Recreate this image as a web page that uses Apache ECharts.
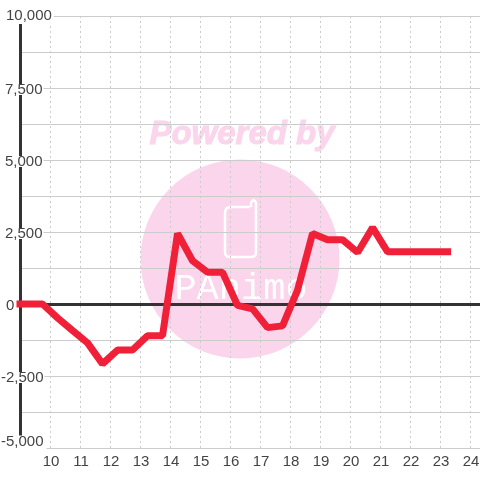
<!DOCTYPE html>
<html><head><meta charset="utf-8">
<style>html,body{margin:0;padding:0;background:#fff}#c{width:480px;height:480px}</style>
<script src="https://cdn.jsdelivr.net/npm/echarts@6/dist/echarts.min.js"></script>
</head><body><div id="c"></div>
<script>
var hours = [9,9.75,10.25,10.75,11.25,11.75,12.25,12.75,13.25,13.75,14.25,14.75,15.25,15.75,16.25,16.75,17.25,17.75,18.25,18.75,19.25,19.75,20.25,20.75,21.25,21.75,22.25,22.75,23.25];
var values = [0,0,-480,-920,-1350,-2080,-1600,-1600,-1100,-1100,2450,1500,1100,1100,-50,-170,-820,-760,480,2450,2230,2230,1790,2650,1810,1810,1810,1810,1810];
var watermarkTop = 'Powered by';
var watermarkLogo = 'PAnimo';
var font = '"Liberation Sans", Arial, sans-serif';
var chart = echarts.init(document.getElementById('c'), null, {renderer:'canvas'});
function yLabel(v){
  var s = echarts.format.addCommas(v);
  if (v===10000) return '{t|'+s+'}';
  if (v===-5000) return '{m|'+s+'}';
  var k = v===0 ? 'z' : v<0 ? 'n' : 'p';
  return '{s| }\n{'+k+'|'+s+'}';
}
function st(extra){return Object.assign({color:'#444',fontSize:15,fontFamily:font,backgroundColor:'#fff',height:11,lineHeight:11},extra);}
chart.setOption({
  animation:false,
  grid:{left:20,right:0,top:16,bottom:32,outerBoundsMode:'none'},
  graphic:[
    {type:'circle',z:-10,silent:true,shape:{cx:240,cy:259,r:99.5},style:{fill:'#fbd5ec'}},
    {type:'text',z:-10,silent:true,x:242,y:135,style:{text:watermarkTop,fill:'#fbd5ec',stroke:'#fbd5ec',lineWidth:1,font:'italic bold 33px '+font,align:'center',verticalAlign:'middle'}},
    {type:'polyline',z:-10,silent:true,shape:{points:[[250,207],[230,207],[227,208],[225.5,210],[225,213],[225,252],[225.5,255],[227,256.5],[230,257],[251,257],[254,256.5],[255.5,255],[256,252],[256,203],[255,201],[253.5,200],[252,201],[251,203],[251,207]]},style:{fill:'none',stroke:'#fff',lineWidth:2.5}},
    {type:'text',z:-10,silent:true,x:241,y:289,style:{text:watermarkLogo,fill:'#fff',font:'37px "Liberation Mono"',align:'center',verticalAlign:'middle'}}
  ],
  xAxis:{type:'value',min:9,max:24.33,interval:1,
    axisLine:{show:false},axisTick:{show:false},
    axisLabel:{color:'#444',fontSize:15,fontFamily:font,margin:6,padding:[0,0,0,2],showMinLabel:false,showMaxLabel:true,
      formatter:function(v){return (v>=10&&v<=24)?String(v):'';}},
    splitLine:{show:true,lineStyle:{color:'#ccc',type:[2,3],width:1}}},
  yAxis:{type:'value',min:-5000,max:10000,interval:1250,
    axisLine:{show:true,onZero:false,lineStyle:{color:'#333',width:3}},axisTick:{show:false},
    axisLabel:{margin:19,align:'left',formatter:function(v){return v%2500===0?yLabel(v):'';},
      rich:{
        s:{height:3,lineHeight:3,fontSize:3},
        p:st({padding:[0,1,0,4]}),
        z:st({padding:[0,0,0,5]}),
        n:st({padding:[0,1,0,0]}),
        t:st({height:16,lineHeight:16,padding:[0,2,0,5]}),
        m:st({height:13,lineHeight:13,padding:[0,3,12,0]})
      }},
    splitLine:{show:true,lineStyle:{color:'#ccc',width:1}}},
  series:[{type:'line',data:hours.map(function(h,i){return [h,values[i]];}),clip:false,showSymbol:false,symbol:'none',
    lineStyle:{color:'#f02038',width:7,cap:'square',join:'bevel'},
    markLine:{silent:true,symbol:'none',label:{show:false},z:1,lineStyle:{color:'#333',width:3,type:'solid'},data:[{yAxis:0}],animation:false},z:3}]
});
</script></body></html>
